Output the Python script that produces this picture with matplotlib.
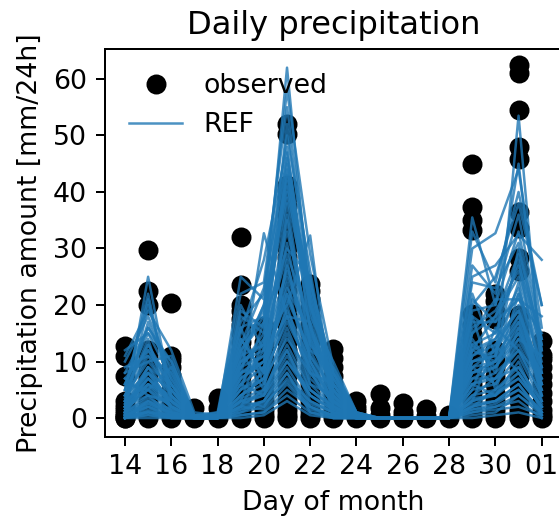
import numpy as np
import pandas as pd
import matplotlib
matplotlib.use("Agg")
import matplotlib.pyplot as plt
import matplotlib.dates as mdates

# ── DATA ────────────────────────────────────────────────────
# days 14 Jan .. 01 Feb
dates = pd.date_range("2018-01-14", "2018-02-01", freq="D")

# observed station values, one list per day [mm/24h]
obs_d14 = [0, 0, 0.3, 0.8, 1.5, 2.2, 3, 7.5, 11, 12.8]
obs_d15 = [0, 0.4, 1, 2, 3, 4.2, 5.5, 7, 8.2, 9.5, 10.8, 12, 20, 22.5, 29.8]
obs_d16 = [0, 0.5, 1.2, 2.4, 3.6, 5, 6.3, 7.6, 9, 10.2, 11, 20.4]
obs_d17 = [0, 0.2, 1.8]
obs_d18 = [0, 0.6, 1.8, 3.5]
obs_d19 = [0, 0.5, 1.5, 3, 4.5, 6, 7.5, 9, 10.5, 12, 13.5, 15, 16.5, 17.5,
           19, 20, 23.5, 32]
obs_d20 = [0, 0.5, 1.5, 3, 4.5, 6, 7.5, 9, 10.5, 12, 13.5, 15, 16.3]
obs_d21 = [0, 0.5, 1.5, 3, 4.5, 6, 7.5, 9, 10.5, 12, 13.5, 15, 16.5, 18,
           19.5, 21, 22.5, 24, 25.5, 27, 28.5, 30, 31.5, 33, 34.5, 36, 37.5,
           39, 40.3, 41.2, 50.2, 52]
obs_d22 = [0, 0.5, 1.5, 3, 4.5, 6, 7.5, 9, 10.5, 12, 13.5, 15, 16.5, 18,
           19.5, 21, 22.5, 23.7]
obs_d23 = [0, 0.5, 1.5, 3, 4.5, 6, 7.5, 9, 10.7, 12.3]
obs_d24 = [0, 0.3, 1.2, 2, 3.1]
obs_d25 = [0, 0.5, 1.8, 4.3]
obs_d26 = [0, 0.3, 1, 2.6]
obs_d27 = [0, 0.4, 1.6]
obs_d28 = [0, 0.6]
obs_d29 = [0, 0.5, 1.5, 3, 4.5, 6, 7.5, 9, 10.5, 12, 13.6, 14.8, 16.5, 18.4,
           33.2, 35, 37.3, 45]
obs_d30 = [0, 0.5, 1.5, 3, 4.5, 6, 7.5, 9, 10.5, 12, 17.5, 19, 20.7, 21.9]
obs_d31 = [0, 0.5, 1.5, 3, 4.5, 6, 7.5, 9, 10.5, 12, 13.5, 15, 16.5, 18.3,
           26, 28.4, 33.7, 36.4, 45.9, 48, 54.5, 61.1, 62.5]
obs_d01 = [0, 0.5, 1.5, 3, 4.5, 6, 7.5, 9, 10.5, 11.2, 13.6]

obs_days = [obs_d14, obs_d15, obs_d16, obs_d17, obs_d18, obs_d19, obs_d20,
            obs_d21, obs_d22, obs_d23, obs_d24, obs_d25, obs_d26, obs_d27,
            obs_d28, obs_d29, obs_d30, obs_d31, obs_d01]

# REF model, one list per station (14 .. 31, 01)
ref_01 = [2, 25, 4, 0, 0.5, 12, 18, 62, 20, 5, 0.5, 0, 0, 0, 0, 12, 10, 53.5, 8]
ref_02 = [1, 20, 6, 0.5, 1, 22, 24, 55, 24, 8, 1, 0, 0, 0, 0, 35.5, 20, 45, 12]
ref_03 = [5, 22, 3, 0, 0.5, 18, 15, 52, 22, 6, 0.5, 0, 0, 0, 0, 25, 27, 32.5, 28]
ref_04 = [10, 18, 8, 0, 0, 15, 28, 48, 18, 10, 1, 0, 0, 0, 0, 20, 25, 38, 20]
ref_05 = [12, 15, 10, 0.5, 0.5, 20, 12, 45, 15, 7, 0.5, 0, 0, 0, 0, 18, 15, 28, 6]
ref_06 = [3, 12, 5, 0, 0, 10, 20, 40, 22, 4, 0, 0, 0, 0, 0, 15, 21, 21, 15]
ref_07 = [8, 10, 11, 0, 1, 8, 10, 38, 12, 9, 0.5, 0, 0, 0, 0, 12, 18, 25, 10]
ref_08 = [0.5, 8, 2, 0, 0, 14, 8, 35, 10, 3, 0, 0, 0, 0, 0, 10, 12, 20, 4]
ref_09 = [6, 5, 9, 0, 0.5, 5, 17, 30, 25, 2, 0, 0, 0, 0, 0, 8, 10, 18, 9]
ref_10 = [4, 14, 1, 0, 0, 12, 5, 28, 8, 6, 0, 0, 0, 0, 0, 14, 8, 22, 3]
ref_11 = [2, 6, 4, 0, 0, 3, 14, 20, 32.3, 1, 0, 0, 0, 0, 0, 5, 16, 12, 7]
ref_12 = [0, 3, 0.5, 0, 0, 16, 6, 20, 6, 4, 0, 0, 0, 0, 0, 18, 5, 16, 5]
ref_13 = [1, 9, 6, 0, 0, 7, 32.7, 18, 17, 0, 0, 0, 0, 0, 0, 3, 13, 8, 2]
ref_14 = [7, 4, 3, 0, 0, 2, 9, 22, 11, 5, 0, 0, 0, 0, 0, 9, 6, 14, 11]
ref_15 = [0, 2, 0, 0, 0, 6, 4, 15, 5, 2, 0, 0, 0, 0, 0, 6, 4, 10, 1]
ref_16 = [3, 17, 7, 0, 0, 11, 13, 44, 19, 3, 0, 0, 0, 0, 0, 22, 11, 30, 13]
ref_17 = [0.5, 1, 0, 0, 0, 1, 3, 10, 4, 1, 0, 0, 0, 0, 0, 2, 3, 6, 0.5]
ref_18 = [2, 7, 2, 0, 0, 9, 11, 18, 9, 0.5, 0, 0, 0, 0, 0, 7, 9, 15, 8]
ref_19 = [9, 11, 8, 0, 0, 4, 7, 27, 13, 8, 0.5, 0, 0, 0, 0, 11, 14, 19, 6]
ref_20 = [0, 0.5, 0, 0, 0, 0.5, 1, 5, 2, 0, 0, 0, 0, 0, 0, 1, 2, 3, 0]
ref_21 = [4, 13, 5, 0, 0, 19, 16, 47, 21, 5, 0, 0, 0, 0, 0, 27, 22, 36, 14]
ref_22 = [1, 3, 1, 0, 0, 2, 5, 12, 3, 1, 0, 0, 0, 0, 0, 4, 7, 9, 3]
ref_23 = [6, 16, 9, 0.5, 0.5, 13, 19, 42, 16, 7, 0.5, 0, 0, 0, 0, 16, 19, 26, 12]
ref_24 = [0, 1, 0, 0, 0, 3, 2, 8, 1, 0, 0, 0, 0, 0, 0, 0.5, 1, 4, 1]
ref_25 = [11, 19, 12, 1, 0.5, 17, 22, 58, 29, 9, 1, 0, 0, 0, 0, 30, 32.7, 44, 16]
ref_26 = [3, 6, 3, 0, 0, 8, 9, 24, 7, 3, 0, 0, 0, 0, 0, 13, 9, 17, 5]
ref_27 = [5, 21, 4, 0, 0, 25, 21, 50, 26, 4, 0, 0, 0, 0, 0, 33, 24, 40, 20]
ref_28 = [0, 0, 0, 0, 0, 0, 0.5, 3, 0.5, 0, 0, 0, 0, 0, 0, 0, 0.5, 1, 0]
ref_29 = [2, 9, 2, 0, 0, 6, 12, 31, 10, 2, 0, 0, 0, 0, 0, 10, 11, 24, 4]
ref_30 = [7, 12, 6, 0, 0, 14, 8, 36, 13, 6, 0, 0, 0, 0, 0, 17, 17, 21, 18]
ref_31 = [1.5, 5, 1, 0, 0, 4, 6, 16, 6, 2, 0, 0, 0, 0, 0, 5, 6, 11, 3]
ref_32 = [0.5, 2, 1, 0, 0, 1.5, 3, 9, 2.5, 1, 0, 0, 0, 0, 0, 3, 4, 7, 2]
ref_33 = [2.5, 8, 3, 0, 0, 10, 13, 26, 14, 3.5, 0, 0, 0, 0, 0, 8, 10, 16, 6]
ref_34 = [1, 4, 0.5, 0, 0, 3, 4, 11, 4, 1.5, 0, 0, 0, 0, 0, 2, 5, 8, 2]
ref_35 = [4, 10, 5, 0, 0, 9, 15, 33, 16, 5, 0, 0, 0, 0, 0, 13, 15, 23, 9]
ref_36 = [0, 1.5, 0.5, 0, 0, 2, 1.5, 6, 1.5, 0.5, 0, 0, 0, 0, 0, 1.5, 2.5, 5, 1]
ref_37 = [0.5, 3, 1.5, 0, 0, 4, 7, 14, 8, 2.5, 0, 0, 0, 0, 0, 6, 8, 12, 4]
ref_38 = [1, 6, 2, 0, 0, 7, 10, 21, 12, 4, 0, 0, 0, 0, 0, 9, 12, 18, 7]
ref_39 = [2, 4, 2.5, 0, 0, 5, 8, 17, 9, 3, 0.3, 0, 0, 0, 0, 7, 7, 13, 5]
ref_40 = [0, 1, 0.5, 0, 0, 1, 2, 7, 3, 1, 0, 0, 0, 0, 0, 2, 3, 5, 1.5]
ref_41 = [3.5, 11, 4, 0, 0, 12, 17, 39, 20, 6, 0.5, 0, 0, 0, 0, 15, 18, 29, 11]
ref_42 = [1.5, 7, 3.5, 0, 0, 8, 11, 23, 15, 4.5, 0, 0, 0, 0, 0, 11, 13, 19, 8]
ref_43 = [0.3, 2.5, 1, 0, 0, 3.5, 5, 13, 5, 2, 0, 0, 0, 0, 0, 4, 5, 9, 2.5]
ref_44 = [5, 13, 6, 0, 0, 11, 20, 43, 23, 7, 0.5, 0, 0, 0, 0, 19, 20, 33, 13]
ref_45 = [0.2, 0.5, 0.2, 0, 0, 0.5, 1, 4, 1, 0.3, 0, 0, 0, 0, 0, 1, 1.5, 2, 0.5]
ref_46 = [2, 5, 2, 0, 0, 6, 9, 19, 10, 3, 0, 0, 0, 0, 0, 8, 9, 14, 6]
ref_47 = [6, 15, 7, 0, 0.3, 13, 23, 46, 20, 8, 0.5, 0, 0, 0, 0, 24, 23, 31, 12]
ref_48 = [1, 3.5, 1.5, 0, 0, 2.5, 4, 10, 5, 1.5, 0, 0, 0, 0, 0, 3, 4.5, 7, 2]
ref_49 = [3, 9, 4, 0, 0, 9, 14, 29, 17, 5, 0, 0, 0, 0, 0, 12, 14, 22, 9]
ref_50 = [0.5, 2, 0.5, 0, 0, 2, 3, 8, 2, 0.5, 0, 0, 0, 0, 0, 2.5, 3, 6, 1]
ref_51 = [4, 8, 5, 0.3, 0, 10, 12, 25, 14, 6, 0.3, 0, 0, 0, 0, 10, 11, 17, 7]
ref_52 = [1.5, 5.5, 2, 0, 0, 5, 7, 18, 8, 2.5, 0, 0, 0, 0, 0, 6, 7, 12, 4]
ref_53 = [8, 16, 10, 0, 0, 16, 18, 41, 24, 8, 0.5, 0, 0, 0, 0, 21, 17, 27, 14]
ref_54 = [0, 1.2, 0.3, 0, 0, 1.5, 2.5, 6.5, 2, 0.5, 0, 0, 0, 0, 0, 1.5, 2, 4, 0.5]
ref_55 = [2.5, 7, 3, 0, 0, 7, 10, 22, 11, 3.5, 0, 0, 0, 0, 0, 9, 10, 15, 6]
ref_56 = [0.8, 2.5, 1, 0, 0, 3, 4.5, 12, 4, 1.5, 0, 0, 0, 0, 0, 3.5, 4, 8, 2]

ref = np.array([ref_01, ref_02, ref_03, ref_04, ref_05, ref_06, ref_07, ref_08,
                ref_09, ref_10, ref_11, ref_12, ref_13, ref_14, ref_15, ref_16,
                ref_17, ref_18, ref_19, ref_20, ref_21, ref_22, ref_23, ref_24,
                ref_25, ref_26, ref_27, ref_28, ref_29, ref_30, ref_31, ref_32,
                ref_33, ref_34, ref_35, ref_36, ref_37, ref_38, ref_39, ref_40,
                ref_41, ref_42, ref_43, ref_44, ref_45, ref_46, ref_47, ref_48,
                ref_49, ref_50, ref_51, ref_52, ref_53, ref_54, ref_55, ref_56])

# ── CHART ───────────────────────────────────────────────────
plt.rcParams["font.size"] = 10.7

fig = plt.figure(figsize=(559 / 180, 520 / 180), dpi=180)
ax = fig.add_axes([0.1873, 0.1602, 0.818, 0.7456])

obs_x = [d for d, vals in zip(dates, obs_days) for _ in vals]
obs_y = [v for vals in obs_days for v in vals]
ax.plot(obs_x, obs_y, "o", color="k", ms=7, label="observed")

for i, row in enumerate(ref):
    ax.plot(dates, row, color="C0", lw=1.0, alpha=0.8,
            label="REF" if i == 0 else None)

ax.set_xticks(dates[::2])
ax.xaxis.set_major_formatter(mdates.DateFormatter("%d"))
ax.set_xlim(dates[0] - pd.Timedelta(hours=21), dates[-1] + pd.Timedelta(hours=21))
ax.set_ylim(-3.3, 65.3)

ax.set_title("Daily precipitation")
ax.set_xlabel("Day of month")
ax.set_ylabel("Precipitation amount [mm/24h]")
ax.legend(loc="upper left", frameon=False)

fig.savefig("out.png", dpi=180)
plt.close(fig)
